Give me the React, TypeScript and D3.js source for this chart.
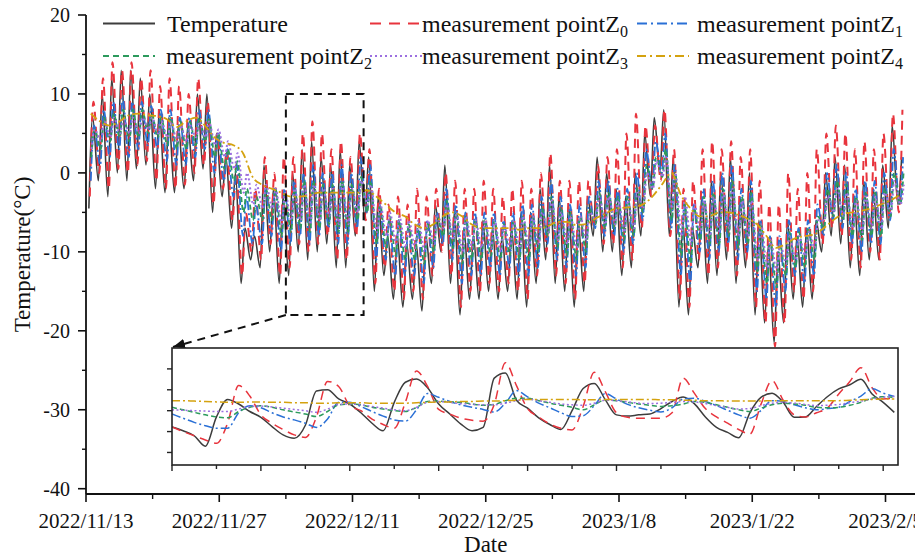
import React from "react";
import * as d3 from "d3";

// ---- data ----
const tickLabels = ["2022/11/13", "2022/11/27", "2022/12/11", "2022/12/25", "2023/1/8", "2023/1/22", "2023/2/5"];
const yTicks = [20, 10, 0, -10, -20, -30, -40];

// daily highs / lows, one entry per day starting 2022/11/13
const tempHi = [7, 10, 12, 13, 13, 12, 10, 8, 7, 6,
  6, 10, 10, 5, 2, 0, -7, -8, 1, -2,
  -3, 0, 3, 4, 2, 1, 3, 1, 4, 2,
  -3, -8, -8, -9, -9, -8, -4, 1, -5, -7,
  -8, -6, -7, -8, -7, -5, -5, -2, 1, -3,
  -4, -6, -3, 2, 0, -2, -3, 0, 5, 7,
  8, 2, -6, -7, -3, -1, 0, 2, -3, 0,
  -6, -9, -10, -6, -8, -7, -6, 0, 2, 1,
  -3, -1, -2, 1, 6, 2];
const tempLo = [-4.5, -1, -3, 0, -1, 0.5, 1, -2, -2.5, -2.5,
  -2, -1, 0.5, -5, -3, -7, -14, -11, -12, -10,
  -14, -13, -10, -11, -10, -9, -12, -12, -8, -6,
  -15, -13, -16, -17, -16, -17.5, -14, -10, -14, -18,
  -16, -16, -15, -16, -15, -16, -17, -14, -11, -14,
  -15, -17, -15, -8, -10, -10, -13, -12, -8, -3,
  0, -8, -17, -18, -12, -14, -13, -11, -14, -12,
  -18, -19, -21.5, -19, -16, -17, -16, -10, -8, -9,
  -12, -13, -11, -11, -7, -4];

const z0Hi = [9, 12, 14, 13, 14, 12, 13, 11, 12, 11,
  10, 12, 9, 5, 3, 1, -5, -2, 2, 0,
  2, 2, 5, 6.5, 5, 3, 4, 2, 5, 3,
  -2, -4, -3, -4, -2, -3, -2, 0, -1, -2,
  -2, -1, -2, -3, -2, -1, -2, 0, 2.5, -1,
  -1, -1, -1, 1, 2, 3, 5, 7.5, 6, 6,
  8, 3, -2, -1, 3, 4, 3, 4, 2, 3,
  -1, -4, -4, 0, -2, 0, 3, 5, 6, 5,
  3, 4, 3, 5, 7.5, 8];
const z0Lo = [-3, 0, -2, 0.5, 0, 1, 1.5, -1, -2, -2,
  -1.5, 0, 1, -4, -2, -6, -13, -10, -11, -9,
  -13, -12, -9, -10, -9, -8, -11, -11, -8, -6,
  -14, -12, -15, -16, -15, -16, -13, -10, -13, -17,
  -15, -15, -14, -15, -14, -15, -16, -13, -10, -13,
  -14, -16, -14, -7, -9, -9, -12, -11, -7, -3,
  -1, -8, -16, -17, -11, -13, -12, -10, -13, -11,
  -17, -19, -22, -19, -15, -16, -15, -9, -7, -8,
  -11, -12, -10, -11, -6, -5];

const z1Hi = [6, 8, 9, 9.5, 9, 9, 8.5, 8, 8, 7,
  7, 8, 8, 5, 3, 1, -3, -4, -2, -2,
  -2, -1, 0, 1, 0, 0, 1, 0, 2, 1,
  -4, -6, -6, -7, -7, -6, -5, -2, -4, -5,
  -5, -5, -5, -6, -5, -4, -4, -3, -1, -3,
  -4, -4, -3, -1, -1, -2, -2, 0, 3, 4,
  5, 1, -4, -4, -2, -1, 0, 1, -2, -1,
  -6, -8, -8, -6, -7, -6, -4, 0, 1, 0,
  -2, -1, -1, 0, 3, 2];
const z1Lo = [-1, 1, 2, 3, 2, 3, 3.5, 3, 1.5, 1,
  1, 2, 3, 0, -1, -3, -8, -9, -9, -8,
  -10, -9, -8, -9, -8, -7, -9, -9, -7, -5,
  -11, -11, -13, -13, -13, -14, -12, -9, -11, -14,
  -13, -13, -12, -13, -12, -13, -13, -12, -9, -11,
  -12, -13, -12, -7, -8, -8, -10, -9, -6, -2,
  0, -7, -13, -14, -10, -11, -10, -9, -11, -10,
  -15, -16, -17, -15, -13, -14, -13, -8, -6, -7,
  -9, -10, -9, -9, -6, -4];

const z2Hi = [5.5, 7, 7.5, 8, 8, 8, 7.5, 7, 7, 6.5,
  6.5, 7, 7, 5, 3, 1.5, -2, -3, -2, -2,
  -2.5, -2, -1, -1, -1.5, -1.5, -1, -1.5, -0.5, -1,
  -4, -5.5, -6, -6.5, -6.5, -6.5, -5.5, -3.5, -5, -5.5,
  -6, -6, -6, -6.5, -6, -5.5, -5.5, -4.5, -3, -4.5,
  -5, -5.5, -4.5, -2.5, -2.5, -3, -3, -2, 1, 2,
  3, 0, -4, -4.5, -3, -2.5, -2, -1, -3, -2.5,
  -6.5, -8.5, -9, -7.5, -7.5, -7, -5.5, -2, -1, -1.5,
  -3, -2.5, -2.5, -2, 0, 0];
const z2Lo = [2, 3, 4, 4.5, 4, 4.5, 5, 4.5, 3.5, 3,
  3, 3.5, 4, 2, 0.5, -1, -5, -6, -6, -6,
  -8, -7.5, -7, -7.5, -7, -6.5, -7.5, -7.5, -6, -5,
  -9, -9.5, -10.5, -11, -11, -11.5, -10, -8, -9.5, -11.5,
  -11, -11, -10.5, -11, -10.5, -11, -11, -10, -8, -9.5,
  -10.5, -11, -10, -6.5, -7, -7, -8.5, -8, -5, -2,
  -0.5, -6, -10.5, -11.5, -8.5, -9, -9, -8, -9.5, -9,
  -12.5, -14, -14.5, -13, -12, -12, -11, -7, -5.5, -6,
  -8, -8.5, -8, -8, -5.5, -4];

const z3Hi = [5.5, 6.5, 7, 7, 7, 7, 7, 6.5, 6.5, 6,
  6, 6.5, 6.5, 5.5, 4, 2.5, 0, -1.5, -1.5, -2,
  -2.5, -2, -1.5, -1.5, -2, -2, -1.5, -2, -1, -1.5,
  -4, -5, -5.5, -6, -6, -6, -5.5, -4, -5, -5.5,
  -6, -6, -6, -6.5, -6, -5.5, -5.5, -5, -3.5, -5,
  -5.5, -5.5, -5, -3, -3, -3.5, -3.5, -2.5, 0, 1.5,
  2, 0, -3, -4, -3.5, -3, -2.5, -2, -3.5, -3.5,
  -6.5, -8.5, -9, -8, -8, -7.5, -6, -3, -2, -2.5,
  -3.5, -3, -3, -2.5, -1, -1.5];
const z3Lo = [3, 4, 4.5, 5, 5, 5, 5.5, 5, 4.5, 4,
  4, 4.5, 4.5, 3.5, 2, 0.5, -2.5, -4, -4.5, -4.5,
  -6.5, -6, -6, -6.5, -6, -5.5, -6.5, -6.5, -5, -4,
  -7.5, -8, -9, -9.5, -9.5, -10, -9, -7, -8.5, -10,
  -9.5, -9.5, -9.5, -10, -9.5, -9.5, -9.5, -9, -7.5, -8.5,
  -9, -9.5, -8.5, -6, -6.5, -6.5, -7.5, -7, -4.5, -2,
  -0.5, -4.5, -8, -9, -7.5, -8, -7.5, -7, -8, -8,
  -11, -12, -12.5, -11.5, -11, -10.5, -9.5, -6, -5, -5.5,
  -7, -7.5, -7, -7, -5, -4];

// deepest point: one value per day
const z4Daily = [7.5, 6.5, 6, 6.5, 7.3, 7.5, 7.3, 7.2, 6.8, 5.8,
  6.5, 7, 6, 4.5, 3.8, 3.5, 2.5, -0.5, -1.5, -2,
  -2.5, -3, -3, -2.8, -2.5, -2.5, -2.5, -2.5, -2.5, -2.2,
  -3, -4, -5, -5.5, -6.5, -7, -6.5, -5.5, -5, -5.5,
  -6.5, -7, -7, -7, -7, -7.2, -7, -7, -6.8, -6.2,
  -6.2, -6.6, -6.5, -5.8, -5.2, -4.6, -4.4, -4.3, -4, -3,
  -1.5, 0, -2.8, -4.5, -5.5, -5.5, -5, -5, -5.3, -5.8,
  -6.5, -8, -9.5, -9, -8.3, -8, -7.8, -7, -6, -5.2,
  -5, -4.8, -4.5, -4, -3.5, -2.8];

// zoomed window (from 2022/12/4), one value every 3 hours
const insetTemp = [-8.9, -9.8, -11.0, -13.5, -6.5, -2.3, -3.4, -5.2,
  -6.6, -8.8, -10.8, -11.6, -8.5, -0.3, 0.0, -2.2,
  -3.4, -5.5, -8.0, -9.8, -3.0, 1.8, 2.6, 0.5,
  -3.4, -5.8, -8.2, -9.8, -9.0, 2.8, 4.0, -2.5,
  -4.4, -6.7, -8.3, -9.5, -5.0, 0.3, 1.5, -2.4,
  -6.0, -6.3, -6.0, -5.8, -4.5, -2.8, -1.7, -3.3,
  -6.5, -9.0, -10.2, -11.5, -5.5, -1.8, -0.8, -3.0,
  -6.6, -6.5, -4.0, -1.6, 0.2, 1.2, 2.5, -1.0,
  -3.0, -5.4];
const insetZ0 = [-8.9, -10.0, -11.0, -12.0, -12.8, -8.0, 1.0, -1.5,
  -6.0, -8.0, -9.5, -10.8, -11.4, -6.5, 2.0, 0.8,
  -3.8, -5.0, -7.0, -8.3, -9.2, -3.0, 4.5, 0.8,
  -4.7, -5.8, -6.8, -7.3, -7.5, -3.5, 6.5, 1.0,
  -4.5, -6.5, -8.2, -9.2, -9.6, -4.0, 4.2, -0.5,
  -5.5, -6.6, -6.8, -6.8, -6.8, -5.5, 2.8, -0.8,
  -4.5, -6.5, -8.0, -9.5, -10.6, -3.5, 2.2, -2.5,
  -6.0, -6.5, -5.5, -4.3, -1.0, 2.0, 5.3, 0.5,
  -2.2, -2.0];
const insetZ1 = [-5.8, -6.8, -7.8, -8.6, -9.2, -9.2, -5.5, -3.8,
  -4.3, -5.5, -6.5, -7.2, -8.0, -9.0, -7.0, -3.0,
  -3.0, -4.0, -5.2, -6.3, -7.2, -7.5, -4.8, -0.9,
  -1.8, -2.8, -3.6, -4.2, -4.7, -5.3, -3.2, -0.2,
  -1.7, -3.2, -4.3, -5.5, -6.4, -6.2, -3.8, -0.9,
  -2.2, -3.5, -4.3, -4.9, -5.3, -4.3, -2.2, -2.0,
  -2.8, -3.8, -4.9, -6.0, -6.8, -5.0, -2.6, -2.8,
  -3.6, -4.3, -4.8, -4.5, -4.2, -2.8, -1.5, 0.3,
  -0.8, -1.6];
const insetZ2 = [-4.2, -4.8, -5.4, -6.0, -6.5, -6.7, -5.2, -4.2,
  -3.8, -4.2, -4.8, -5.3, -5.8, -6.4, -5.2, -3.6,
  -3.4, -3.6, -4.2, -4.6, -5.0, -5.2, -4.2, -2.8,
  -2.7, -2.9, -3.0, -3.4, -3.7, -3.5, -2.6, -2.0,
  -2.0, -2.6, -3.2, -3.7, -4.2, -4.8, -3.6, -2.4,
  -2.6, -3.0, -3.4, -3.7, -4.0, -3.8, -3.4, -2.8,
  -3.0, -3.6, -4.2, -4.8, -5.2, -4.4, -3.6, -3.2,
  -3.4, -3.7, -4.2, -4.3, -4.2, -3.7, -3.0, -2.0,
  -1.65, -1.8];
const insetZ3 = [-4.8, -4.9, -5.0, -5.1, -5.2, -5.2, -4.6, -4.0,
  -3.9, -4.1, -4.4, -4.7, -5.0, -5.4, -4.6, -3.5,
  -3.4, -3.6, -4.0, -4.4, -4.8, -5.0, -4.2, -3.0,
  -2.8, -3.0, -3.3, -3.5, -3.6, -3.6, -3.2, -2.6,
  -2.2, -2.6, -3.0, -3.4, -3.6, -3.7, -3.2, -2.5,
  -2.6, -2.9, -3.2, -3.3, -3.2, -3.0, -2.8, -2.9,
  -3.3, -3.8, -4.2, -4.6, -4.5, -3.8, -3.2, -3.0,
  -3.2, -3.5, -3.8, -3.7, -3.5, -3.1, -2.7, -2.2,
  -1.8, -1.6];
const insetZ4 = [-2.6, -2.6, -2.7, -2.8, -2.9, -3.0, -3.0, -2.9,
  -2.9, -3.0, -3.0, -3.1, -3.1, -3.2, -3.2, -3.1,
  -3.1, -3.1, -3.2, -3.2, -3.2, -3.2, -3.1, -3.0,
  -2.9, -2.9, -2.8, -2.8, -2.7, -2.7, -2.6, -2.5,
  -2.3, -2.3, -2.3, -2.3, -2.3, -2.4, -2.4, -2.3,
  -2.3, -2.3, -2.3, -2.3, -2.4, -2.4, -2.5, -2.5,
  -2.6, -2.6, -2.7, -2.7, -2.7, -2.7, -2.6, -2.6,
  -2.6, -2.6, -2.6, -2.6, -2.6, -2.5, -2.4, -2.3,
  -2.2, -2.2];

// ---- layout ----
const W = 915;
const H = 560;
const FONT = "'Liberation Serif', 'Times New Roman', serif";

const parseDate = d3.timeParse("%Y/%m/%d");
const tickDates = tickLabels.map((t) => parseDate(t) as Date);
const start = tickDates[0];
const insetStart = parseDate("2022/12/4") as Date;
const insetEnd = d3.timeHour.offset(insetStart, 196);

const x = d3.scaleTime().domain([tickDates[0], tickDates[tickDates.length - 1]]).range([86, 885.5]);
const y = d3.scaleLinear().domain([-40, 20]).range([488.7, 15]);
const axisY = 494;

const ix = d3.scaleTime().domain([insetStart, insetEnd]).range([172, 898]);
const iy = d3.scaleLinear().domain([-18, 10]).range([465, 348]);

const atDay = (d: number) => new Date(start.getTime() + d * 864e5);

type Series = {
  label: string;
  sub?: string;
  hi?: number[];
  lo?: number[];
  daily?: number[];
  loAt: number;
  hiAt: number;
  inset: number[];
  color: string;
  dash: string;
  width: number;
  legendDash: string;
};

const series: Series[] = [
  { label: "Temperature", hi: tempHi, lo: tempLo, loAt: 0.3, hiAt: 0.7, inset: insetTemp, color: "#3d3d3d", dash: "", width: 1.6, legendDash: "" },
  { label: "measurement point", sub: "0", hi: z0Hi, lo: z0Lo, loAt: 0.4, hiAt: 0.78, inset: insetZ0, color: "#e8343d", dash: "9,6", width: 2, legendDash: "11,8" },
  { label: "measurement point", sub: "1", hi: z1Hi, lo: z1Lo, loAt: 0.5, hiAt: 0.85, inset: insetZ1, color: "#2a70d6", dash: "9,3,2,3", width: 1.8, legendDash: "10,4,2,4" },
  { label: "measurement point", sub: "2", hi: z2Hi, lo: z2Lo, loAt: 0.55, hiAt: 0.9, inset: insetZ2, color: "#2c9a5c", dash: "5,3", width: 1.8, legendDash: "6,4" },
  { label: "measurement point", sub: "3", hi: z3Hi, lo: z3Lo, loAt: 0.58, hiAt: 0.92, inset: insetZ3, color: "#9c6fe0", dash: "2,2.5", width: 2, legendDash: "2,3" },
  { label: "measurement point", sub: "4", daily: z4Daily, loAt: 0.5, hiAt: 0.5, inset: insetZ4, color: "#d4a20f", dash: "8,3,2,3", width: 1.8, legendDash: "9,4,2,4" },
];

const mainPoints = (s: Series): [Date, number][] => {
  if (s.daily) return s.daily.map((v, i) => [atDay(i + s.loAt), v]);
  const pts: [Date, number][] = [];
  (s.lo as number[]).forEach((lo, i) => {
    pts.push([atDay(i + s.loAt), lo]);
    pts.push([atDay(i + s.hiAt), (s.hi as number[])[i]]);
  });
  return pts;
};

const insetPoints = (s: Series): [Date, number][] =>
  s.inset.map((v, k) => [d3.timeHour.offset(insetStart, k * 3), v]);

const mainLine = d3.line<[Date, number]>().x((d) => x(d[0])).y((d) => y(d[1])).curve(d3.curveMonotoneX);
const insetLine = d3.line<[Date, number]>().x((d) => ix(d[0])).y((d) => iy(d[1])).curve(d3.curveMonotoneX);

// legend slots
const legendPos = [
  { lx: 103, tx: 167, row: 0 },
  { lx: 370, tx: 422, row: 0 },
  { lx: 637, tx: 697, row: 0 },
  { lx: 103, tx: 166, row: 1 },
  { lx: 370, tx: 422, row: 1 },
  { lx: 637, tx: 697, row: 1 },
];

const App = () => {
  const minorX = tickDates.map((t) => d3.timeDay.offset(t, 7)).filter((t) => x(t) < W);
  const minorY = d3.range(-35, 20, 10);
  const insetTicksX = d3.timeHour.every(12)!.range(insetStart, d3.timeHour.offset(insetEnd, 1));
  const insetTicksY = d3.range(-15, 10, 5);
  const [ix0, ix1] = ix.range();
  const [iy0, iy1] = iy.range();

  return (
    <svg width={W} height={H} style={{ position: "absolute", left: 0, top: 0, background: "#fff" }} fontFamily={FONT}>
      <defs>
        <clipPath id="mainClip">
          <rect x={86} y={0} width={W - 86} height={axisY} />
        </clipPath>
        <clipPath id="insetClip">
          <rect x={ix0} y={iy1} width={ix1 - ix0} height={iy0 - iy1} />
        </clipPath>
        <marker id="arrow" viewBox="0 0 12 10" refX={12} refY={5} markerWidth={12} markerHeight={10} markerUnits="userSpaceOnUse" orient="auto">
          <path d="M0,0 L12,5 L0,10 z" fill="#111" />
        </marker>
      </defs>

      {/* main series */}
      <g clipPath="url(#mainClip)">
        {series.map((s, i) => (
          <path key={i} d={mainLine(mainPoints(s)) || ""} fill="none" stroke={s.color} strokeWidth={s.width} strokeDasharray={s.dash || undefined} strokeLinejoin="round" />
        ))}
      </g>

      {/* zoom box + connector */}
      <rect x={x(insetStart)} y={y(10)} width={x(insetEnd) - x(insetStart)} height={y(-18) - y(10)} fill="none" stroke="#111" strokeWidth={2} strokeDasharray="8,6" />
      <line x1={x(insetStart)} y1={y(-18)} x2={ix0 + 1} y2={iy1 - 1} stroke="#111" strokeWidth={2} strokeDasharray="8,6" markerEnd="url(#arrow)" />

      {/* inset */}
      <rect x={ix0} y={iy1} width={ix1 - ix0} height={iy0 - iy1} fill="#fff" />
      <g clipPath="url(#insetClip)">
        {series.map((s, i) => (
          <path key={i} d={insetLine(insetPoints(s)) || ""} fill="none" stroke={s.color} strokeWidth={1.5} strokeDasharray={s.dash || undefined} strokeLinejoin="round" />
        ))}
      </g>
      <rect x={ix0} y={iy1} width={ix1 - ix0} height={iy0 - iy1} fill="none" stroke="#222" strokeWidth={1.6} />
      {insetTicksY.map((v) => (
        <line key={v} x1={ix0 - 5} x2={ix0} y1={iy(v)} y2={iy(v)} stroke="#222" strokeWidth={1.4} />
      ))}
      {insetTicksX.map((t, i) => (
        <line key={i} x1={ix(t)} x2={ix(t)} y1={iy0} y2={iy0 + (t.getHours() === 0 ? 6 : 4)} stroke="#222" strokeWidth={1.4} />
      ))}

      {/* axes */}
      <line x1={86} x2={86} y1={y(20)} y2={axisY} stroke="#111" strokeWidth={1.8} />
      <line x1={86} x2={W} y1={axisY} y2={axisY} stroke="#111" strokeWidth={1.8} />
      {yTicks.map((v) => (
        <g key={v}>
          <line x1={78} x2={86} y1={y(v)} y2={y(v)} stroke="#111" strokeWidth={1.6} />
          <text x={70} y={y(v)} dy="0.35em" textAnchor="end" fontSize={20} fill="#111">{v}</text>
        </g>
      ))}
      {minorY.map((v) => (
        <line key={v} x1={82} x2={86} y1={y(v)} y2={y(v)} stroke="#111" strokeWidth={1.4} />
      ))}
      {tickDates.map((t, i) => (
        <g key={i}>
          <line x1={x(t)} x2={x(t)} y1={axisY} y2={axisY + 8} stroke="#111" strokeWidth={1.6} />
          <text x={x(t)} y={528} textAnchor="middle" fontSize={21} fill="#111">{tickLabels[i]}</text>
        </g>
      ))}
      {minorX.map((t, i) => (
        <line key={i} x1={x(t)} x2={x(t)} y1={axisY} y2={axisY + 5} stroke="#111" strokeWidth={1.4} />
      ))}
      <text x={x(d3.timeDay.offset(start, 42))} y={552} textAnchor="middle" fontSize={23} fill="#111">Date</text>
      <text transform={`translate(30,${(y(20) + axisY) / 2}) rotate(-90)`} textAnchor="middle" fontSize={23} fill="#111">Temperature(°C)</text>

      {/* legend */}
      {series.map((s, i) => {
        const p = legendPos[i];
        const ly = p.row === 0 ? 23.5 : 56;
        const ty = p.row === 0 ? 31.5 : 63.5;
        return (
          <g key={i}>
            <line x1={p.lx} x2={p.lx + 52} y1={ly} y2={ly} stroke={s.color} strokeWidth={2} strokeDasharray={s.legendDash || undefined} />
            <text x={p.tx} y={ty} fontSize={24} fill="#111">
              {s.label}
              {s.sub && (
                <>
                  <tspan>Z</tspan>
                  <tspan dy={5} fontSize={16}>{s.sub}</tspan>
                </>
              )}
            </text>
          </g>
        );
      })}
    </svg>
  );
};

export default App;
